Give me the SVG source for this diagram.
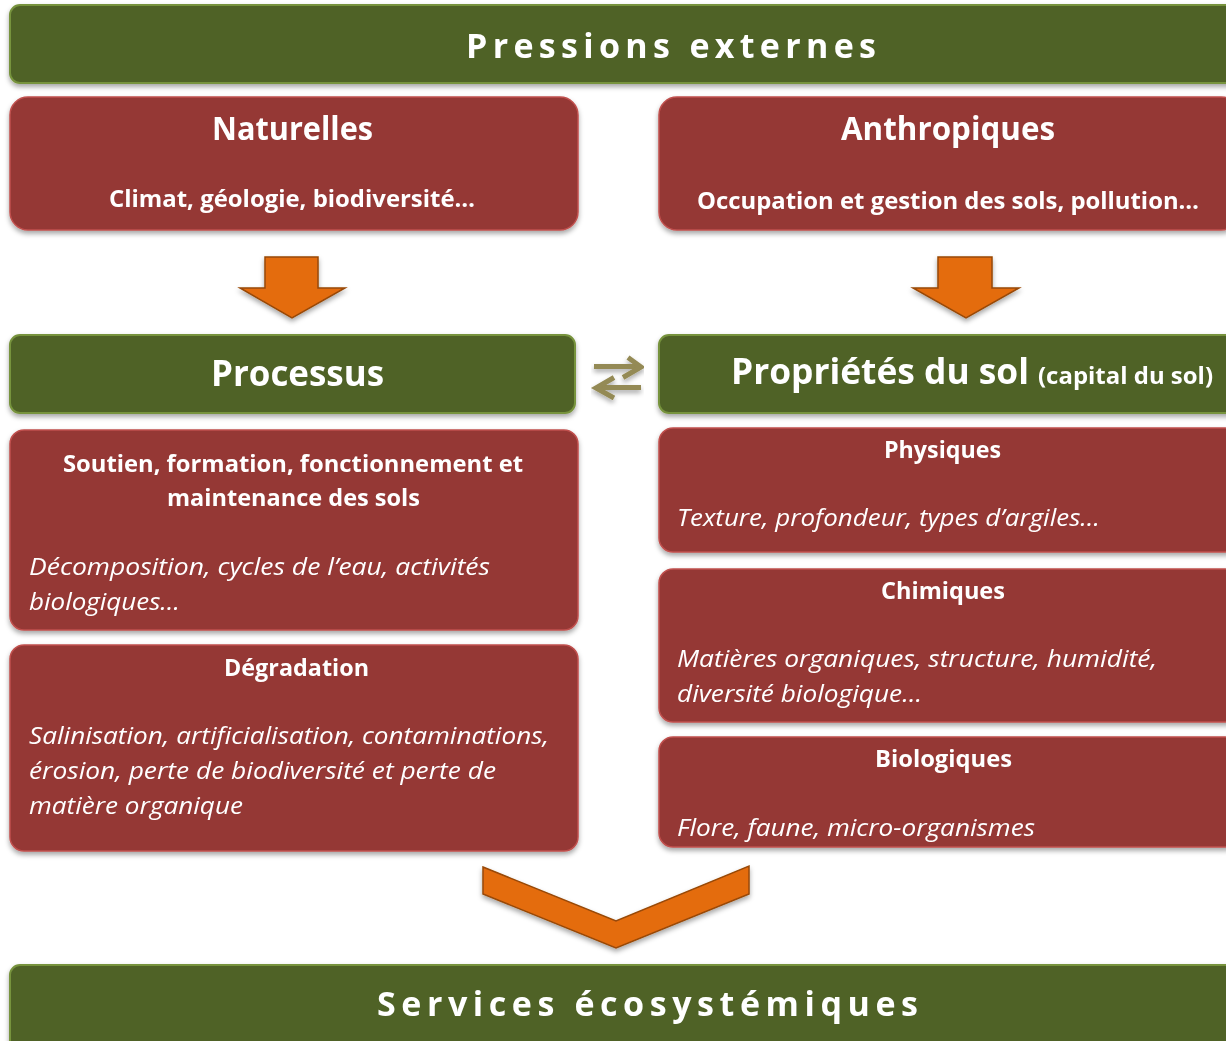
<svg xmlns="http://www.w3.org/2000/svg" width="1226" height="1041" viewBox="0 0 1226 1041">
<defs>
<filter id="sh" x="-5%" y="-10%" width="110%" height="130%">
<feDropShadow dx="0" dy="3" stdDeviation="2.5" flood-color="#000" flood-opacity="0.35"/>
</filter>
<style>
.g{fill:#4f6228;stroke:#77933c;stroke-width:2}
.r{fill:#953735;stroke:#c0504d;stroke-width:1.5}
.o{fill:#e46c0a;stroke:#984807;stroke-width:1.5}
text{font-family:"Open Sans",Lato,"Liberation Sans",sans-serif;fill:#fff}
.b{font-weight:bold}
.i{font-style:italic;font-size:23px}
.c{text-anchor:middle}
.h{font-size:22.5px;font-weight:bold}
.t{font-size:32px;font-weight:bold}
.sp{font-size:34px;font-weight:bold}
.eq{fill:none;stroke:#948a54;stroke-width:5}
</style>
</defs>
<rect width="1226" height="1041" fill="#fff"/>
<g id="pressions" filter="url(#sh)">
<rect class="g" x="10" y="5" width="1230" height="78" rx="10"/>
<text class="sp" x="466" y="58" textLength="410" lengthAdjust="spacing">Pressions externes</text>
</g>
<g id="naturelles" filter="url(#sh)">
<rect class="r" x="10" y="97" width="568" height="133" rx="18"/>
<text class="t" x="212" y="140" textLength="161" lengthAdjust="spacingAndGlyphs">Naturelles</text>
<text class="h" x="109" y="207" textLength="366" lengthAdjust="spacingAndGlyphs">Climat, géologie, biodiversité…</text>
</g>
<g id="anthropiques" filter="url(#sh)">
<rect class="r" x="659" y="97" width="580" height="133" rx="18"/>
<text class="t" x="841" y="140" textLength="214" lengthAdjust="spacingAndGlyphs">Anthropiques</text>
<text class="h" x="697" y="209" textLength="502" lengthAdjust="spacingAndGlyphs">Occupation et gestion des sols, pollution…</text>
</g>
<g id="processus" filter="url(#sh)">
<rect class="g" x="10" y="335" width="565" height="78" rx="10"/>
<text class="b" x="211" y="386" font-size="36" textLength="173" lengthAdjust="spacingAndGlyphs">Processus</text>
</g>
<g id="proprietes" filter="url(#sh)">
<rect class="g" x="659" y="335" width="580" height="78" rx="10"/>
<text class="b" x="731" y="384" font-size="36" textLength="298" lengthAdjust="spacingAndGlyphs">Propriétés du sol</text>
<text class="b" x="1038" y="384" font-size="23" textLength="175" lengthAdjust="spacingAndGlyphs">(capital du sol)</text>
</g>
<g id="soutien" filter="url(#sh)">
<rect class="r" x="10" y="430" width="568" height="200" rx="14"/>
<text class="h" x="63" y="472" textLength="460" lengthAdjust="spacingAndGlyphs">Soutien, formation, fonctionnement et</text>
<text class="h" x="167" y="506" textLength="253" lengthAdjust="spacingAndGlyphs">maintenance des sols</text>
<text class="i" x="29" y="575" textLength="461" lengthAdjust="spacingAndGlyphs">Décomposition, cycles de l’eau, activités</text>
<text class="i" x="29" y="610" textLength="151" lengthAdjust="spacingAndGlyphs">biologiques…</text>
</g>
<g id="degradation" filter="url(#sh)">
<rect class="r" x="10" y="645" width="568" height="206" rx="14"/>
<text class="h" x="224" y="676" textLength="145" lengthAdjust="spacingAndGlyphs">Dégradation</text>
<text class="i" x="29" y="744" textLength="520" lengthAdjust="spacingAndGlyphs">Salinisation, artificialisation, contaminations,</text>
<text class="i" x="29" y="779" textLength="467" lengthAdjust="spacingAndGlyphs">érosion, perte de biodiversité et perte de</text>
<text class="i" x="29" y="814" textLength="214" lengthAdjust="spacingAndGlyphs">matière organique</text>
</g>
<g id="physiques" filter="url(#sh)">
<rect class="r" x="659" y="428" width="580" height="124" rx="14"/>
<text class="h" x="884" y="458" textLength="117" lengthAdjust="spacingAndGlyphs">Physiques</text>
<text class="i" x="677" y="526" textLength="423" lengthAdjust="spacingAndGlyphs">Texture, profondeur, types d’argiles…</text>
</g>
<g id="chimiques" filter="url(#sh)">
<rect class="r" x="659" y="569" width="580" height="153" rx="14"/>
<text class="h" x="881" y="599" textLength="124" lengthAdjust="spacingAndGlyphs">Chimiques</text>
<text class="i" x="677" y="667" textLength="480" lengthAdjust="spacingAndGlyphs">Matières organiques, structure, humidité,</text>
<text class="i" x="677" y="702" textLength="245" lengthAdjust="spacingAndGlyphs">diversité biologique…</text>
</g>
<g id="biologiques" filter="url(#sh)">
<rect class="r" x="659" y="737" width="580" height="110" rx="14"/>
<text class="h" x="875" y="767" textLength="137" lengthAdjust="spacingAndGlyphs">Biologiques</text>
<text class="i" x="677" y="836" textLength="358" lengthAdjust="spacingAndGlyphs">Flore, faune, micro-organismes</text>
</g>
<g id="services" filter="url(#sh)">
<rect class="g" x="10" y="965" width="1230" height="90" rx="10"/>
<text class="sp" x="377" y="1016" textLength="541" lengthAdjust="spacing">Services écosystémiques</text>
</g>
<g id="connectors">
<g filter="url(#sh)">
<polygon class="o" points="265,257 318,257 318,288 345,288 292,318 240,288 265,288"/>
<polygon class="o" points="938,257 992,257 992,288 1019,288 966,318 913,288 938,288"/>
<polygon class="o" points="483,867 616,921 749,866 749,894 616,948 483,894"/>
</g>
<g filter="url(#sh)">
<line class="eq" x1="594" y1="366.5" x2="639" y2="366.5"/>
<polyline class="eq" points="628,357.5 641,367 623,377.5" stroke-linejoin="miter"/>
<line class="eq" x1="641" y1="387.5" x2="597" y2="387.5"/>
<polyline class="eq" points="614,377.5 596,388 614,398" stroke-linejoin="miter"/>
</g>
</g>
</svg>
